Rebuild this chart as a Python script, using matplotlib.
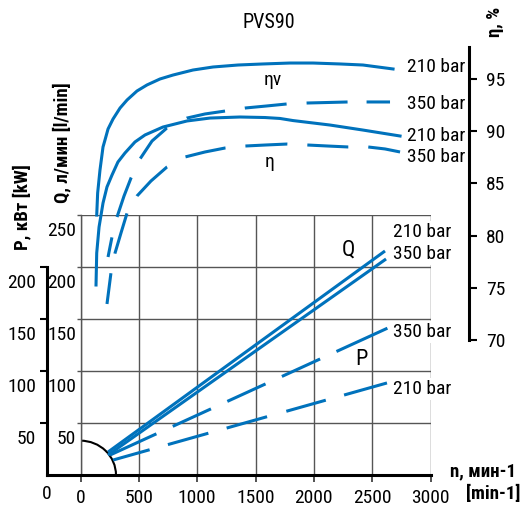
import matplotlib
matplotlib.use("Agg")
import matplotlib.pyplot as plt
from matplotlib.patches import Arc

plt.rcParams["font.family"] = ["Roboto Condensed", "Fira Sans Condensed", "DejaVu Sans"]
plt.rcParams["lines.scale_dashes"] = False

BLUE = "#0072bc"

# --- data ---
rpm_ticks = [0, 500, 1000, 1500, 2000, 2500, 3000]
q_ticks = [50, 100, 150, 200, 250]
p_ticks = [0, 50, 100, 150, 200]
eta_ticks = [70, 75, 80, 85, 90, 95]

# volumetric efficiency, 210 bar (solid)
etav210_n = [139, 147, 167, 193, 210, 236, 279, 339, 399, 484, 570, 681, 793,
             964, 1136, 1350, 1564, 1796, 1993, 2224, 2421, 2679]
etav210 = [81.97, 84.08, 86.28, 88.49, 89.16, 90.21, 91.17, 92.22, 92.99, 93.85,
           94.43, 95.00, 95.38, 95.86, 96.15, 96.34, 96.44, 96.53, 96.53, 96.44,
           96.34, 95.96]
# volumetric efficiency, 350 bar (dashed)
etav350_n = [236, 270, 313, 373, 433, 510, 613, 741, 913, 1067, 1239, 1410, 1590,
             1770, 1941, 2121, 2293, 2456, 2653]
etav350 = [77.95, 79.87, 81.78, 83.79, 85.52, 87.34, 89.06, 90.31, 91.26, 91.65,
           91.93, 92.22, 92.41, 92.61, 92.70, 92.75, 92.80, 92.80, 92.80]
# total efficiency, 210 bar (solid)
eta210_n = [133, 139, 159, 193, 227, 270, 321, 381, 467, 553, 707, 810, 913, 1110,
            1367, 1581, 1710, 1821, 2139, 2421, 2739]
eta210 = [75.27, 78.33, 80.82, 83.12, 84.66, 85.80, 87.05, 87.91, 88.97, 89.64,
          90.40, 90.69, 90.98, 91.26, 91.36, 91.31, 91.22, 91.02, 90.59, 90.11,
          89.54]
# total efficiency, 350 bar (dashed)
eta350_n = [227, 261, 296, 347, 399, 484, 604, 741, 896, 1067, 1239, 1410, 1590,
            1770, 1941, 2121, 2293, 2464, 2610, 2739]
eta350 = [73.45, 76.42, 78.33, 80.25, 82.16, 83.79, 85.23, 86.57, 87.53, 88.01,
          88.39, 88.58, 88.68, 88.77, 88.68, 88.58, 88.49, 88.49, 88.30, 88.01]

# flow Q [l/min] and power P [kW]
q210_n, q210 = [236, 2610], [22.1, 215.4]
q350_n, q350 = [236, 2619], [19.2, 207.7]
p350_n, p350 = [253, 2653], [19.2, 142.3]
p210_n, p210 = [279, 2627], [14.4, 88.5]

W, H = 521, 507


def box(l, t, r, b):
    return [l / W, 1 - b / H, (r - l) / W, (b - t) / H]


def dashes_px(seq):
    # dash lengths measured in pixels -> points
    return (0, [v * 0.72 for v in seq])


fig = plt.figure(figsize=(W / 100, H / 100), dpi=100)

# lower grid: Q / P vs n
ax = fig.add_axes(box(80.5, 215, 430.5, 475))
ax.set_xlim(0, 3000)
ax.set_ylim(0, 250)
ax.set_xticks(rpm_ticks)
ax.set_xticklabels([str(v) for v in rpm_ticks], fontsize=14)
ax.set_yticks(q_ticks)
ax.set_yticklabels([])
ax.grid(True, color="#555555", lw=1.0)
ax.tick_params(axis="x", length=5, width=1.2, color="#333333", pad=5)
ax.tick_params(axis="y", length=3, width=1.0, color="#555555")
for s in ["top", "right"]:
    ax.spines[s].set_visible(False)
ax.spines["left"].set_color("#555555")
ax.spines["left"].set_linewidth(1.0)
ax.spines["bottom"].set_linewidth(2.2)
ax.spines["bottom"].set_bounds(-287, 3000)

for v in q_ticks:
    ax.annotate(str(v), xy=(0, v), xycoords=("axes fraction", "data"),
                xytext=(-3, -11.5), textcoords="offset points",
                ha="right", va="center", fontsize=14)

# P axis
p_pos = (47 - 80.5) / 350
pax = ax.secondary_yaxis(p_pos)
pax.set_yticks(p_ticks[1:])
pax.set_yticklabels([])
pax.spines["left"].set_bounds(0, 200)
pax.spines["left"].set_linewidth(2.2)
pax.tick_params(length=5, width=1.5)
for v in p_ticks:
    if v == 0:
        ax.annotate("0", xy=(p_pos, 0), xycoords=("axes fraction", "data"),
                    xytext=(0, -14), textcoords="offset points",
                    ha="center", va="center", fontsize=14)
    else:
        ax.annotate(str(v), xy=(p_pos, v), xycoords=("axes fraction", "data"),
                    xytext=(-8, -11.5), textcoords="offset points",
                    ha="right", va="center", fontsize=14)

ax.add_patch(Arc((0, 0), 608, 66, theta1=0, theta2=90, color="black", lw=1.5))

ax.plot(q210_n, q210, color=BLUE, lw=2.2, solid_capstyle="butt")
ax.plot(q350_n, q350, color=BLUE, lw=2.2, solid_capstyle="butt")
ax.plot(p350_n, p350, color=BLUE, lw=2.2, dash_capstyle="butt",
        linestyle=dashes_px([51, 18, 42, 18, 42, 18, 42, 18, 56, 20]))
ax.plot(p210_n, p210, color=BLUE, lw=2.2, dash_capstyle="butt",
        linestyle=dashes_px([38, 19, 42, 19, 42, 20, 41, 19, 45, 20]))

lbl = dict(fontsize=14, ha="left", va="center",
           bbox=dict(facecolor="white", edgecolor="none", pad=1.5))
ax.text(2678, 233.7, "210 bar", **lbl)
ax.text(2678, 212.5, "350 bar", **lbl)
ax.text(2678, 137.5, "350 bar", **lbl)
ax.text(2678, 82.7, "210 bar", **lbl)
ax.text(2293, 216.3, "Q", fontsize=16, ha="center", va="center")
ax.text(2404, 110.6, "P", fontsize=16, ha="center", va="center")

# upper part: efficiency
eax = fig.add_axes(box(80.5, 47, 430.5, 340))
eax.set_xlim(0, 3000)
eax.set_ylim(70, 70 + 293 / 10.44)
eax.patch.set_alpha(0)
for s in ["top", "left", "bottom"]:
    eax.spines[s].set_visible(False)
eax.spines["right"].set_position(("axes", (469 - 80.5) / 350))
eax.spines["right"].set_linewidth(2.2)
eax.set_xticks([])
eax.yaxis.tick_right()
eax.set_yticks(eta_ticks)
eax.set_yticklabels([str(v) for v in eta_ticks], fontsize=14)
eax.tick_params(axis="y", length=6, width=1.5, pad=6)

eax.plot(etav210_n, etav210, color=BLUE, lw=2.2, clip_on=False)
eax.plot(eta210_n, eta210, color=BLUE, lw=2.2, clip_on=False)
eax.plot(etav350_n, etav350, color=BLUE, lw=2.2, clip_on=False, dash_capstyle="butt",
         linestyle=dashes_px([20, 21, 42, 21, 41, 22, 39, 20, 42, 20, 41, 19, 30, 20]))
eax.plot(eta350_n, eta350, color=BLUE, lw=2.2, clip_on=False, dash_capstyle="butt",
         linestyle=dashes_px([31, 20, 42, 20, 42, 21, 41, 20, 42, 20, 41, 20, 40, 20]))

elbl = dict(fontsize=14, ha="left", va="center")
eax.text(2798, 96.15, "210 bar", **elbl)
eax.text(2798, 92.61, "350 bar", **elbl)
eax.text(2798, 89.54, "210 bar", **elbl)
eax.text(2798, 87.53, "350 bar", **elbl)
eax.text(1650, 94.9, "ηv", fontsize=14, ha="center", va="center")
eax.text(1624, 87.05, "η", fontsize=14, ha="center", va="center")

# titles and axis names
fig.text(269 / W, 1 - 22 / H, "PVS90", fontsize=14.5, ha="center", va="center")
fig.text(495 / W, 1 - 22 / H, "η, %", fontsize=13.5, fontweight="bold",
         rotation=90, ha="center", va="center")
fig.text(62 / W, 1 - 143 / H, "Q, л/мин [l/min]", fontsize=13.5, fontweight="bold",
         rotation=90, ha="center", va="center")
fig.text(22 / W, 1 - 207 / H, "P, кВт [kW]", fontsize=13.5, fontweight="bold",
         rotation=90, ha="center", va="center")
fig.text(516 / W, 1 - 471 / H, "n, мин-1", fontsize=13.5, fontweight="bold",
         ha="right", va="center")
fig.text(520 / W, 1 - 494 / H, "[min-1]", fontsize=13.5, fontweight="bold",
         ha="right", va="center")

fig.savefig("out.png", dpi=100)
